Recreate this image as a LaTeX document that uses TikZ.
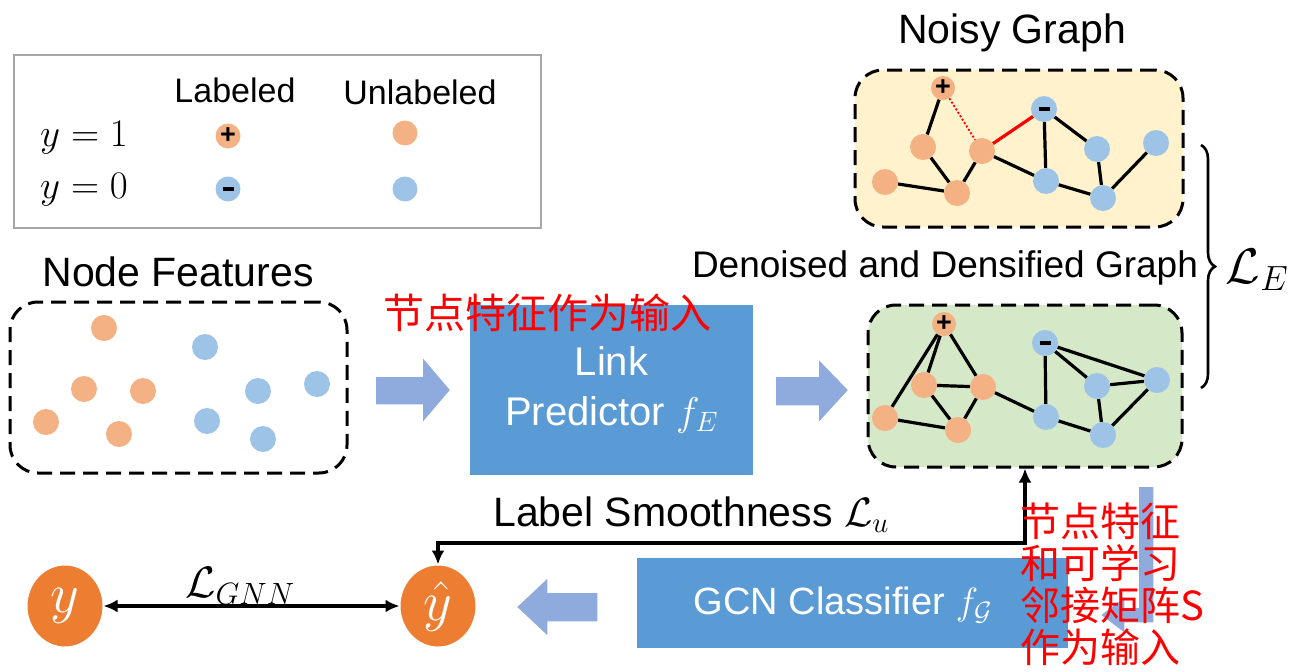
\RequirePackage{fix-cm}
\documentclass[tikz,border=0pt]{standalone}
\usepackage[no-math]{fontspec}
\setmainfont{Liberation Sans}
\newfontfamily\cjk{Noto Sans CJK SC}
\usetikzlibrary{decorations.pathreplacing,arrows.meta,shapes.geometric}
\definecolor{nodeor}{RGB}{244,177,131}
\definecolor{nodebl}{RGB}{157,195,230}
\definecolor{deepor}{RGB}{237,125,49}
\definecolor{boxblue}{RGB}{91,155,213}
\definecolor{arrblue}{RGB}{143,170,220}
\definecolor{noisybg}{RGB}{255,242,204}
\definecolor{greenbg}{RGB}{213,232,200}
\definecolor{leggray}{RGB}{166,166,166}
\pgfdeclarelayer{bg}
\pgfdeclarelayer{edges}
\pgfsetlayers{bg,edges,main}
\newcommand\plussign{\fontsize{27}{27}\selectfont\bfseries +}
\newcommand\minussign{\rule[-1pt]{11pt}{4.5pt}}
\tikzset{
  onode/.style={circle,fill=nodeor,minimum size=26pt,inner sep=0pt},
  bnode/.style={circle,fill=nodebl,minimum size=26pt,inner sep=0pt},
  gedge/.style={line width=3.2pt,black},
  dashbox/.style={draw=black,line width=3pt,dash pattern=on 15pt off 8pt,rounded corners=28pt,inner sep=0pt},
  bigtext/.style={font=\fontsize{41}{48}\selectfont,inner sep=0pt},
  blockarr/.style={fill=arrblue,draw=white,line width=1.5pt},
  ycirc/.style={ellipse,fill=deepor,draw=white,line width=1pt,minimum width=76pt,minimum height=82pt,inner sep=0pt,text=white,font=\fontsize{56}{56}\selectfont},
  conn/.style={line width=3.2pt,black},
  redtext/.style={text=red,inner sep=0pt,font=\cjk\fontsize{40}{42}\selectfont},
}
\begin{document}
\begin{tikzpicture}[x=1pt,y=-1pt]
\useasboundingbox (0,0) rectangle (1299,672);
% ---------- legend ----------
\node[draw=leggray,line width=2.6pt,minimum width=527pt,minimum height=173pt,inner sep=0pt] (legend) at (277.5,141.5) {};
\node[font=\fontsize{34}{40}\selectfont,inner sep=0pt] (lablab) at (235,90) {Labeled};
\node[font=\fontsize{34}{40}\selectfont,inner sep=0pt] (unlab) at (420,92) {Unlabeled};
\node[font=\fontsize{39}{40}\selectfont,inner sep=0pt] (yone) at (84,138) {$y=1$};
\node[font=\fontsize{39}{40}\selectfont,inner sep=0pt] (yzero) at (84,190) {$y=0$};
\node[onode,minimum size=25pt] (lp) at (228,136) {\plussign};
\node[bnode,minimum size=25pt] (lm) at (228,189) {\minussign};
\node[onode,minimum size=25pt] (up) at (405,133) {};
\node[bnode,minimum size=25pt] (um) at (405,189) {};
% ---------- node features ----------
\node[bigtext] (nftitle) at (178,272) {Node Features};
\node[dashbox,minimum width=337pt,minimum height=171pt] (featbox) at (178.5,387.5) {};
\node[onode] (f1) at (104,328) {};
\node[onode] (f2) at (84,389) {};
\node[onode] (f3) at (143,391) {};
\node[onode] (f4) at (46,422) {};
\node[onode] (f5) at (119,434) {};
\node[bnode] (f6) at (205,347) {};
\node[bnode] (f7) at (258,391) {};
\node[bnode] (f8) at (317,384) {};
\node[bnode] (f9) at (207,421) {};
\node[bnode] (f10) at (263,439) {};
% ---------- link predictor ----------
\node[fill=boxblue,minimum width=283pt,minimum height=170pt,inner sep=0pt,text=white,align=center,font=\fontsize{40}{50}\selectfont] (link) at (611.5,390) {Link\\Predictor $f_E$};
\draw[blockarr] (375,376) -- (422,376) -- (422,356) -- (451,390) -- (422,424) -- (422,405) -- (375,405) -- cycle;
\draw[blockarr] (775,376) -- (818,376) -- (818,358) -- (849,390) -- (818,424) -- (818,406) -- (775,406) -- cycle;
% ---------- noisy graph ----------
\node[bigtext] (noisytitle) at (1012,33) {Noisy Graph};
\begin{pgfonlayer}{bg}
\node[dashbox,fill=noisybg,minimum width=328pt,minimum height=157pt] (noisy) at (1019,148.5) {};
\node[dashbox,fill=greenbg,minimum width=314pt,minimum height=162pt] (green) at (1025,386) {};
\end{pgfonlayer}
\node[onode,minimum size=24pt] (na) at (943,88) {\plussign};
\node[onode] (nb) at (923,147) {};
\node[onode] (nc) at (982,151) {};
\node[onode] (nd) at (885,182) {};
\node[onode] (ne) at (957,193) {};
\node[bnode] (nf) at (1044,109) {\minussign};
\node[bnode] (ng) at (1097,149) {};
\node[bnode] (nh) at (1156,143) {};
\node[bnode] (ni) at (1046,181) {};
\node[bnode] (nj) at (1103,198) {};
\begin{pgfonlayer}{edges}
\foreach \a/\b in {na/nb,nb/ne,nd/ne,ne/nc,nc/ni,nf/ni,nf/ng,ng/nj,ni/nj,nj/nh}
  \draw[gedge] (\a) -- (\b);
\draw[gedge,red] (nc) -- (nf);
\draw[red,line width=1.8pt,dash pattern=on 2pt off 2pt] (na) -- (nc);
\end{pgfonlayer}
% ---------- denoised graph ----------
\node[font=\fontsize{37}{44}\selectfont,inner sep=0pt] (dentitle) at (945,268) {Denoised and Densified Graph};
\node[onode,minimum size=24pt] (ga) at (944,324) {\plussign};
\node[onode] (gb) at (924,385) {};
\node[onode] (gc) at (983,387) {};
\node[onode] (gd) at (885,418) {};
\node[onode] (ge) at (958,430) {};
\node[bnode] (gf) at (1045,343) {\minussign};
\node[bnode] (gg) at (1097,386) {};
\node[bnode] (gh) at (1157,380) {};
\node[bnode] (gi) at (1046,417) {};
\node[bnode] (gj) at (1103,435) {};
\begin{pgfonlayer}{edges}
\foreach \a/\b in {ga/gd,ga/gb,ga/gc,gb/gc,gb/ge,gd/ge,gc/ge,gc/gi,gf/gi,gf/gg,gf/gh,gg/gh,gg/gj,gi/gj,gj/gh}
  \draw[gedge] (\a) -- (\b);
\end{pgfonlayer}
% ---------- brace ----------
\coordinate (bt) at (1201,145);
\coordinate (bb) at (1201,388);
\draw[line width=2.6pt,decorate,decoration={brace,amplitude=14pt}] (bt) -- (bb);
\node[font=\fontsize{50}{50}\selectfont,inner sep=0pt] (LE) at (1257,270) {$\mathcal{L}_E$};
% ---------- bottom ----------
\node[ycirc] (yc) at (65,606) {$y$};
\node[ycirc] (yh) at (438,606) {$\hat{y}$};
\draw[conn,{Latex[length=14pt,width=13pt]}-{Latex[length=14pt,width=13pt]}] (yc) -- (yh);
\node[font=\fontsize{44}{44}\selectfont,inner sep=0pt] (LG) at (240,586) {$\mathcal{L}_{GNN}$};
\draw[blockarr] (598,592) -- (548,592) -- (548,577) -- (516,607) -- (548,637) -- (548,622) -- (598,622) -- cycle;
\node[fill=boxblue,minimum width=431pt,minimum height=90pt,inner sep=0pt] (gcn) at (852.5,603) {};
\node[text=white,font=\fontsize{38}{44}\selectfont,inner sep=0pt] (gcntext) at (843,605) {GCN Classifier $f_{\mathcal{G}}$};
\coordinate (c1) at (1025,543);
\coordinate (c2) at (438,543);
\draw[conn,{Latex[length=14pt,width=13pt]}-{Latex[length=14pt,width=13pt]}] (green.south -| c1) -- (c1) -- (c2) -- (yh);
\node[bigtext,anchor=west] (ls) at (493,515) {Label Smoothness $\mathcal{L}_u$};
\draw[blockarr] (1138,486) -- (1154,486) -- (1154,623) -- (1125,623) -- (1125,634) -- (1100,615) -- (1125,596) -- (1125,607) -- (1138,607) -- cycle;
% ---------- red annotations ----------
\node[redtext,font=\cjk\fontsize{41}{42}\selectfont] (rt1) at (547,313) {节点特征作为输入};
\node[redtext,anchor=north west,align=left] (rt2) at (1020,503) {节点特征\\和可学习\\邻接矩阵S\\作为输入};
\end{tikzpicture}
\end{document}
